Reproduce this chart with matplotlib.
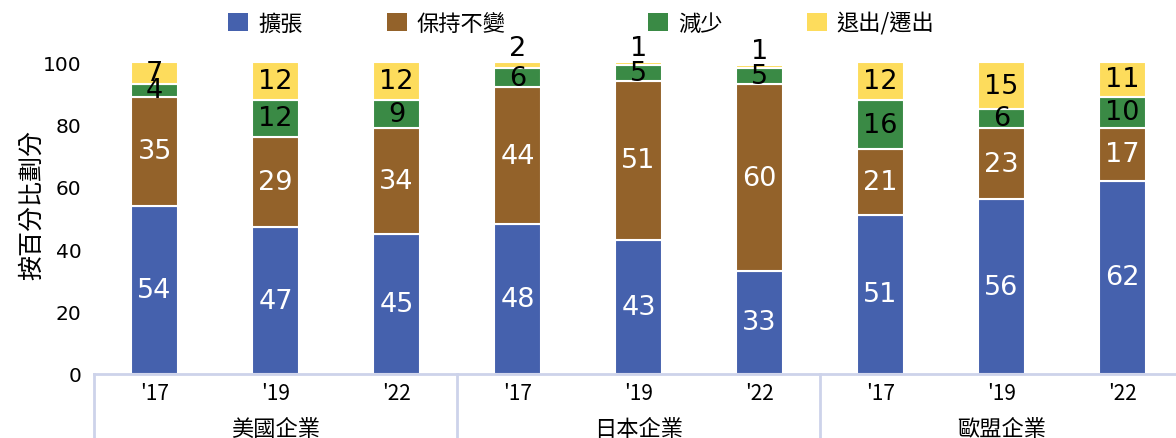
import numpy as np
import matplotlib
matplotlib.use('Agg')
import matplotlib.pyplot as plt
from matplotlib.patches import Patch
import matplotlib.transforms as mtransforms

plt.rcParams['font.family'] = ['Noto Sans CJK TC', 'DejaVu Sans']

# data (percent)
groups = ['美國企業', '日本企業', '歐盟企業']
years = ["'17", "'19", "'22"]
series_names = ['擴張', '保持不變', '減少', '退出/遷出']
expand = [54, 47, 45, 48, 43, 33, 51, 56, 62]
keep = [35, 29, 34, 44, 51, 60, 21, 23, 17]
reduce_ = [4, 12, 9, 6, 5, 5, 16, 6, 10]
exit_ = [7, 12, 12, 2, 1, 1, 12, 15, 11]

colors = ['#4561ad', '#93622a', '#3a8a45', '#fddc5c']
text_colors = ['white', 'white', 'black', 'black']
axis_col = '#cdd3ea'
num_font = ['DejaVu Sans']

fig = plt.figure(figsize=(11.76, 4.39), dpi=100)
ax = fig.add_axes([0.080, 0.146, 0.926, 0.710])

x = np.arange(len(expand))
width = 0.39
bottom = np.zeros(len(x))
for vals, col, tcol in zip([expand, keep, reduce_, exit_], colors, text_colors):
    vals = np.array(vals, dtype=float)
    ax.bar(x, vals, width, bottom=bottom, color=col, edgecolor='white', linewidth=1.5)
    for xi, b, v in zip(x, bottom, vals):
        if v >= 3:
            ax.text(xi, b + v / 2, f'{int(v)}', ha='center', va='center',
                    fontsize=19.5, color=tcol, family=num_font, clip_on=False)
        else:
            # tiny segments: label sits just above the bar
            ax.text(xi, b + v + 0.3, f'{int(v)}', ha='center', va='bottom',
                    fontsize=19.5, color=tcol, family=num_font, clip_on=False)
    bottom += vals

ax.set_xlim(-0.5, 8.5)
ax.set_ylim(0, 100)
ax.set_yticks(np.arange(0, 101, 20))
ax.tick_params(axis='y', length=0, pad=9)
for lab in ax.get_yticklabels():
    lab.set_fontsize(14.5)
    lab.set_family(num_font)
ax.set_ylabel('按百分比劃分', fontsize=18)
ax.yaxis.set_label_coords(-0.045, 0.545)

for s in ['top', 'right', 'left']:
    ax.spines[s].set_visible(False)
ax.spines['bottom'].set_color(axis_col)
ax.spines['bottom'].set_linewidth(2)

ax.set_xticks(x)
ax.set_xticklabels(years * 3, fontsize=15)
ax.tick_params(axis='x', length=0, pad=6)

# group labels and separators below the axis
trans = mtransforms.blended_transform_factory(ax.transData, ax.transAxes)
for gi, g in enumerate(groups):
    ax.text(gi * 3 + 1, -0.175, g, transform=trans, ha='center', va='center', fontsize=16)
for sep in [-0.5, 2.5, 5.5]:
    ax.plot([sep, sep], [0, -0.21], transform=trans, color=axis_col, lw=2, clip_on=False)

# legend entries, spaced as in the original
leg_x = [0.194, 0.329, 0.551, 0.686]
for name, col, lx in zip(series_names, colors, leg_x):
    leg = fig.legend([Patch(facecolor=col, edgecolor='none')], [name],
                     loc='center left', bbox_to_anchor=(lx, 0.945), frameon=False,
                     fontsize=16, handlelength=0.9, handleheight=0.9,
                     handletextpad=0.45, borderpad=0, borderaxespad=0)

fig.savefig('out.png', dpi=100)
